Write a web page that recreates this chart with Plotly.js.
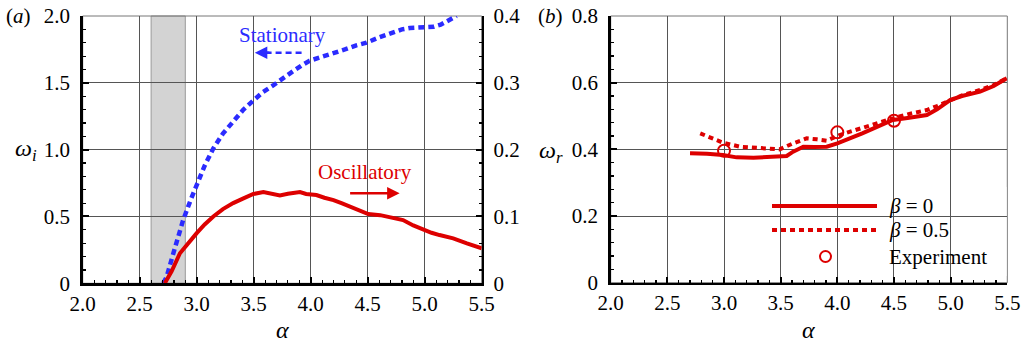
<!DOCTYPE html>
<html>
<head>
<meta charset="utf-8">
<script src="https://cdn.plot.ly/plotly-3.0.1.min.js"></script>
<style>html,body{margin:0;padding:0;background:#fff;}#chart{width:1028px;height:345px;}</style>
</head>
<body>
<div id="chart"></div>
<script>
// ---- Panel (a): growth rate omega_i ----
const statAlpha = [2.707, 2.737, 2.795, 2.88, 2.95, 3.0, 3.07, 3.146, 3.23, 3.32, 3.41, 3.5, 3.58, 3.67, 3.76, 3.85, 3.92, 3.99, 4.1, 4.2, 4.3, 4.4, 4.49, 4.6, 4.72, 4.8, 4.87, 4.99, 5.08, 5.14, 5.19, 5.24, 5.28];
const statOmega = [0.0, 0.05, 0.224, 0.47, 0.63, 0.73, 0.88, 1.01, 1.12, 1.21, 1.3, 1.37, 1.43, 1.48, 1.53, 1.59, 1.63, 1.665, 1.695, 1.72, 1.75, 1.78, 1.80, 1.84, 1.88, 1.90, 1.91, 1.915, 1.92, 1.935, 1.96, 1.985, 2.0];

const oscAlpha = [2.72, 2.78, 2.853, 2.93, 3.0, 3.07, 3.146, 3.23, 3.32, 3.41, 3.497, 3.585, 3.65, 3.73, 3.8, 3.906, 3.96, 4.05, 4.12, 4.2, 4.27, 4.345, 4.43, 4.505, 4.61, 4.7, 4.81, 4.9, 4.99, 5.06, 5.13, 5.25, 5.37, 5.5];
const oscOmega = [0.0, 0.018, 0.045, 0.062, 0.075, 0.088, 0.1, 0.111, 0.12, 0.127, 0.1336, 0.1366, 0.1346, 0.1316, 0.134, 0.1366, 0.1336, 0.132, 0.128, 0.1246, 0.12, 0.1146, 0.1096, 0.1036, 0.102, 0.099, 0.0946, 0.0866, 0.0798, 0.0756, 0.0722, 0.0672, 0.0598, 0.0524];

const shadeRange = [2.6, 2.9];

// ---- Panel (b): frequency omega_r ----
const b0Alpha = [2.70, 2.85, 2.99, 3.11, 3.26, 3.40, 3.553, 3.61, 3.70, 3.80, 3.906, 4.0, 4.08, 4.14, 4.22, 4.32, 4.49, 4.62, 4.79, 4.88, 4.995, 5.1, 5.26, 5.38, 5.495];
const b0Omega = [0.388, 0.387, 0.383, 0.376, 0.375, 0.378, 0.38, 0.393, 0.408, 0.407, 0.408, 0.418, 0.428, 0.438, 0.448, 0.463, 0.488, 0.494, 0.503, 0.52, 0.548, 0.56, 0.573, 0.59, 0.613];

const b5Alpha = [2.79, 2.9, 2.99, 3.14, 3.3, 3.49, 3.61, 3.73, 3.82, 3.906, 4.02, 4.2, 4.38, 4.49, 4.62, 4.79, 4.88, 4.995, 5.1, 5.26, 5.38, 5.495];
const b5Omega = [0.448, 0.432, 0.42, 0.408, 0.404, 0.40, 0.418, 0.433, 0.43, 0.426, 0.443, 0.463, 0.483, 0.493, 0.505, 0.518, 0.53, 0.548, 0.562, 0.578, 0.593, 0.613];

const expAlpha = [3.0, 4.0, 4.5];
const expOmega = [0.396, 0.451, 0.486];

const xTicks = [2.0, 2.5, 3.0, 3.5, 4.0, 4.5, 5.0, 5.5];
const xTickText = ["2.0", "2.5", "3.0", "3.5", "4.0", "4.5", "5.0", "5.5"];
const yaTicks = [0, 0.5, 1.0, 1.5, 2.0];
const yaTickText = ["0", "0.5", "1.0", "1.5", "2.0"];
const ya2Ticks = [0, 0.1, 0.2, 0.3, 0.4];
const ya2TickText = ["0", "0.1", "0.2", "0.3", "0.4"];
const ybTicks = [0, 0.2, 0.4, 0.6, 0.8];
const ybTickText = ["0", "0.2", "0.4", "0.6", "0.8"];

const RED = '#dd0000';
const BLUE = '#2b2bff';
const FONT = 'Liberation Serif';
const W = 1028, H = 345;
const px = v => v / W;
const py = v => 1 - v / H;

const traces = [
  {x: statAlpha, y: statOmega, xaxis: 'x', yaxis: 'y', mode: 'lines',
   line: {color: BLUE, width: 4.5, dash: '6px,4px'}, showlegend: false},
  {x: oscAlpha, y: oscOmega, xaxis: 'x', yaxis: 'y2', mode: 'lines',
   line: {color: RED, width: 4}, showlegend: false},
  {x: b0Alpha, y: b0Omega, xaxis: 'x2', yaxis: 'y3', mode: 'lines',
   line: {color: RED, width: 4}, showlegend: false},
  {x: b5Alpha, y: b5Omega, xaxis: 'x2', yaxis: 'y3', mode: 'lines',
   line: {color: RED, width: 4, dash: '5px,4px'}, showlegend: false},
  {x: expAlpha, y: expOmega, xaxis: 'x2', yaxis: 'y3', mode: 'markers',
   marker: {symbol: 'circle-open', size: 12, color: RED, line: {width: 2, color: RED}}, showlegend: false}
];

const tickFont = {family: FONT, size: 21, color: '#000'};
const baseX = {
  range: [2.0, 5.5], tickvals: xTicks, ticktext: xTickText, ticks: 'inside', ticklen: 6, tickwidth: 2,
  tickcolor: '#000', showline: true, linecolor: '#000', linewidth: 2.5, mirror: false,
  showgrid: true, gridcolor: '#555', gridwidth: 1, zeroline: false, tickfont: tickFont,
  ticklabelstandoff: 0,
  minor: {dtick: 0.1, tick0: 2.0, ticks: 'inside', ticklen: 3, tickwidth: 1.2, tickcolor: '#000', showgrid: false}
};

const yDom = [py(283.3), py(16)];

const layout = {
  width: W, height: H,
  margin: {l: 0, r: 0, t: 0, b: 0},
  paper_bgcolor: '#fff', plot_bgcolor: 'rgba(0,0,0,0)',
  showlegend: false,
  font: {family: FONT, color: '#000', size: 21},
  xaxis: Object.assign({}, baseX, {domain: [px(82.7), px(481.7)], anchor: 'y'}),
  yaxis: {
    domain: yDom, range: [0, 2.0], anchor: 'x', tickvals: yaTicks, ticktext: yaTickText,
    ticks: 'inside', ticklen: 6, tickwidth: 2, tickcolor: '#000', showline: true, linecolor: '#000', linewidth: 2.5,
    showgrid: true, gridcolor: '#555', gridwidth: 1, zeroline: false, tickfont: tickFont, ticklabelstandoff: 6,
    minor: {dtick: 0.1, tick0: 0, ticks: 'inside', ticklen: 3, tickwidth: 1.2, tickcolor: '#000', showgrid: false}
  },
  yaxis2: {
    overlaying: 'y', side: 'right', anchor: 'x', range: [0, 0.4], tickvals: ya2Ticks, ticktext: ya2TickText,
    ticks: 'inside', ticklen: 6, tickwidth: 2, tickcolor: '#000', showline: true, linecolor: '#000', linewidth: 2.5,
    showgrid: false, zeroline: false, tickfont: tickFont, ticklabelstandoff: 5,
    minor: {dtick: 0.02, tick0: 0, ticks: 'inside', ticklen: 3, tickwidth: 1.2, tickcolor: '#000', showgrid: false}
  },
  xaxis2: Object.assign({}, baseX, {domain: [px(610.7), px(1007.3)], anchor: 'y3'}),
  yaxis3: {
    domain: [py(282.7), py(16)], range: [0, 0.8], anchor: 'x2', tickvals: ybTicks, ticktext: ybTickText,
    ticks: 'inside', ticklen: 6, tickwidth: 2, tickcolor: '#000', showline: true, linecolor: '#000', linewidth: 2.5,
    showgrid: true, gridcolor: '#555', gridwidth: 1, zeroline: false, tickfont: tickFont, ticklabelstandoff: 6,
    minor: {dtick: 0.04, tick0: 0, ticks: 'inside', ticklen: 3, tickwidth: 1.2, tickcolor: '#000', showgrid: false}
  },
  shapes: [
    {type: 'rect', xref: 'x', yref: 'y domain', x0: shadeRange[0], x1: shadeRange[1], y0: 0, y1: 1,
     fillcolor: '#d3d3d3', line: {color: '#999', width: 1}, layer: 'below'},
    {type: 'rect', xref: 'paper', yref: 'paper', x0: px(82.7), x1: px(481.7), y0: py(283.3), y1: py(16),
     line: {color: '#777', width: 1}, fillcolor: 'rgba(0,0,0,0)', layer: 'between'},
    {type: 'rect', xref: 'paper', yref: 'paper', x0: px(610.7), x1: px(1007.3), y0: py(282.7), y1: py(16),
     line: {color: '#777', width: 1}, fillcolor: 'rgba(0,0,0,0)', layer: 'between'},
    {type: 'line', xref: 'x', yref: 'y', x0: 3.92, x1: 3.58, y0: 1.725, y1: 1.725,
     line: {color: BLUE, width: 2.5, dash: '6px,4px'}},
    {type: 'rect', xref: 'paper', yref: 'paper', x0: px(771), x1: px(1006.5), y0: py(276), y1: py(187),
     fillcolor: '#fff', line: {width: 0}, layer: 'between'},
    {type: 'line', xref: 'paper', yref: 'paper', x0: px(772), x1: px(877), y0: py(206), y1: py(206),
     line: {color: RED, width: 4}},
    {type: 'line', xref: 'paper', yref: 'paper', x0: px(772), x1: px(877), y0: py(230), y1: py(230),
     line: {color: RED, width: 4, dash: '5px,4px'}},
    {type: 'circle', xref: 'paper', yref: 'paper', x0: px(820), x1: px(831), y0: py(262), y1: py(251),
     line: {color: RED, width: 2}, fillcolor: 'rgba(0,0,0,0)'}
  ],
  annotations: [
    {xref: 'paper', yref: 'paper', x: px(4), y: py(16), xanchor: 'left', yanchor: 'middle', showarrow: false,
     text: '(<i>a</i>)', font: {family: FONT, size: 21, color: '#000'}},
    {xref: 'paper', yref: 'paper', x: px(536), y: py(16), xanchor: 'left', yanchor: 'middle', showarrow: false,
     text: '(<i>b</i>)', font: {family: FONT, size: 21, color: '#000'}},
    {xref: 'paper', yref: 'paper', x: px(26), y: py(150), xanchor: 'center', yanchor: 'middle', showarrow: false,
     text: '<i>ω</i><sub><i>i</i></sub>', font: {family: FONT, size: 24, color: '#000'}},
    {xref: 'paper', yref: 'paper', x: px(551), y: py(152), xanchor: 'center', yanchor: 'middle', showarrow: false,
     text: '<i>ω</i><sub><i>r</i></sub>', font: {family: FONT, size: 24, color: '#000'}},
    {xref: 'paper', yref: 'paper', x: px(282), y: py(330), xanchor: 'center', yanchor: 'middle', showarrow: false,
     text: '<i>α</i>', font: {family: FONT, size: 24, color: '#000'}},
    {xref: 'paper', yref: 'paper', x: px(808), y: py(330), xanchor: 'center', yanchor: 'middle', showarrow: false,
     text: '<i>α</i>', font: {family: FONT, size: 24, color: '#000'}},
    {xref: 'x', yref: 'y', x: 3.75, y: 1.86, showarrow: false, text: 'Stationary',
     font: {family: FONT, size: 21, color: BLUE}},
    {xref: 'x', yref: 'y', x: 3.51, y: 1.725, ax: 16, ay: 0, axref: 'pixel', ayref: 'pixel', showarrow: true, text: '',
     arrowhead: 2, arrowsize: 1, arrowwidth: 2.5, arrowcolor: BLUE},
    {xref: 'x', yref: 'y', x: 4.476, y: 0.83, showarrow: false, text: 'Oscillatory',
     font: {family: FONT, size: 21, color: RED}},
    {xref: 'x', yref: 'y', x: 4.78, y: 0.673, ax: -51, ay: 0, axref: 'pixel', ayref: 'pixel', showarrow: true, text: '',
     arrowhead: 2, arrowsize: 1, arrowwidth: 2.5, arrowcolor: RED},
    {xref: 'paper', yref: 'paper', x: px(887), y: py(206), xanchor: 'left', yanchor: 'middle', showarrow: false,
     text: '<i>β</i> = 0', font: {family: FONT, size: 21, color: '#000'}},
    {xref: 'paper', yref: 'paper', x: px(887), y: py(230), xanchor: 'left', yanchor: 'middle', showarrow: false,
     text: '<i>β</i> = 0.5', font: {family: FONT, size: 21, color: '#000'}},
    {xref: 'paper', yref: 'paper', x: px(887), y: py(257), xanchor: 'left', yanchor: 'middle', showarrow: false,
     text: 'Experiment', font: {family: FONT, size: 21, color: '#000'}}
  ]
};

Plotly.newPlot('chart', traces, layout, {staticPlot: true, displayModeBar: false});
</script>
</body>
</html>
